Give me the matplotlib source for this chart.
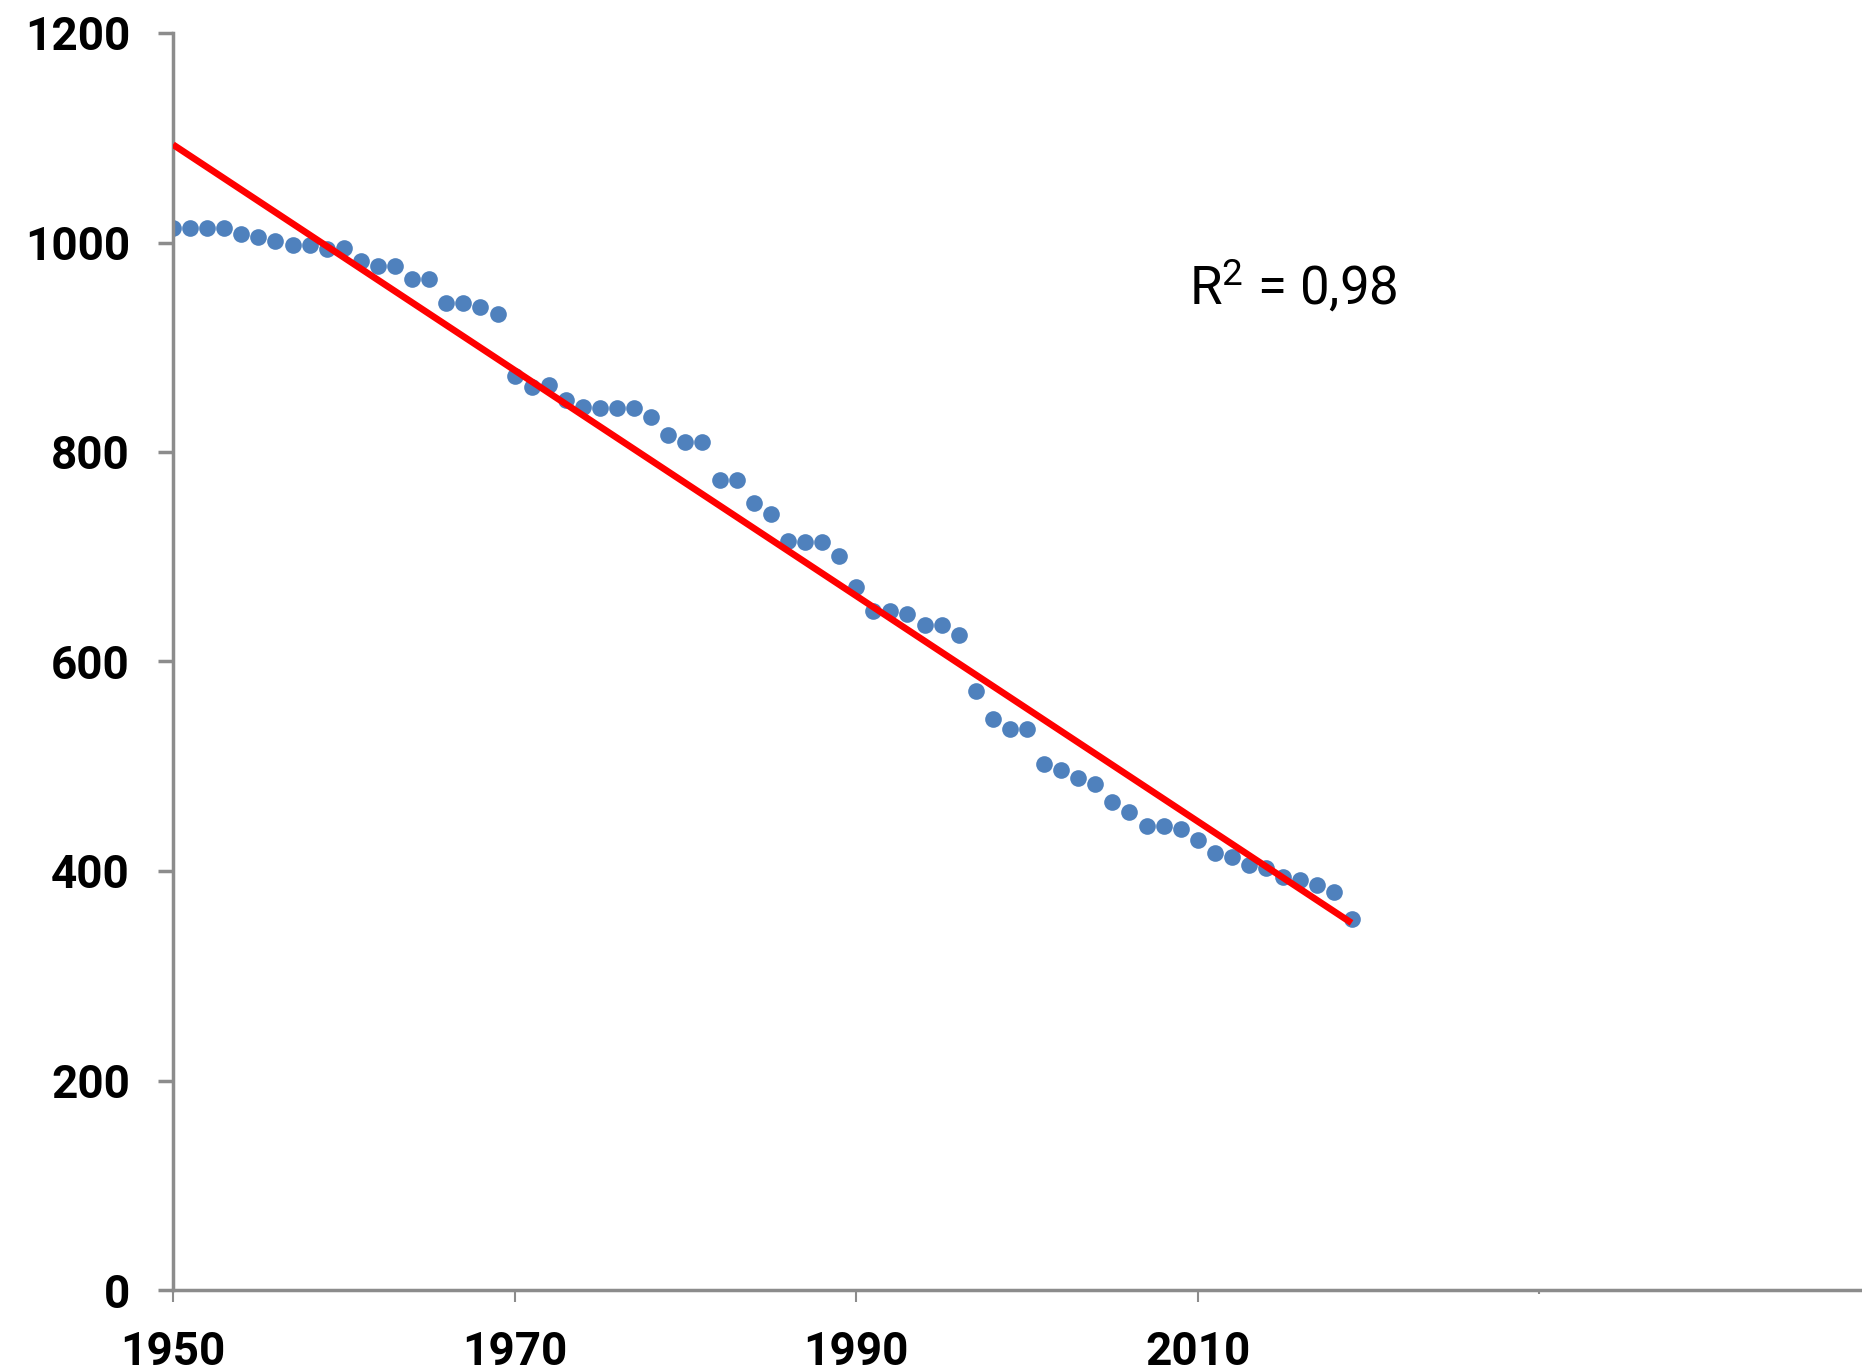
import numpy as np
import matplotlib
matplotlib.use("Agg")
import matplotlib.pyplot as plt

years = np.arange(1950, 2020)
values = [1014, 1014, 1014, 1014, 1008, 1005, 1001, 998, 998, 994,
          995, 982, 978, 978, 965, 965, 942, 942, 938, 932,
          873, 862, 864, 850, 843, 842, 842, 842, 833, 816,
          810, 810, 773, 773, 751, 741, 715, 714, 714, 701,
          671, 648, 648, 645, 635, 635, 625, 572, 545, 536,
          536, 502, 496, 489, 483, 466, 456, 443, 443, 440,
          430, 417, 413, 406, 403, 394, 391, 387, 380, 354]
r2_label = r"$\mathregular{R^2}$ = 0,98"

plt.rcParams['font.family'] = ['Roboto', 'DejaVu Sans']

fig = plt.figure(figsize=(18.62, 13.71), dpi=100)
# axes reaches a bit past the right edge, like the cropped original
ax = fig.add_axes([173 / 1862, 1 - 1290 / 1371, (1881 - 173) / 1862, (1290 - 33) / 1371])

ax.plot(years, values, 'o', color='#4f81bd', markersize=12, markeredgewidth=0, zorder=2)

# linear trend
a, b = np.polyfit(years, values, 1)
fit_x = np.array([years[0], years[-1]])
ax.plot(fit_x, a * fit_x + b, color='#ff0000', lw=4.8, solid_capstyle='butt', zorder=3)

ax.text(2009.5, 941, r2_label, fontsize=38, ha='left', va='baseline')

ax.set_xlim(1950, 2050)
ax.set_ylim(0, 1200)
ax.set_xticks([1950, 1970, 1990, 2010])
ax.set_xticks([2030], minor=True)
ax.set_yticks(np.arange(0, 1201, 200))

for s in ['top', 'right']:
    ax.spines[s].set_visible(False)
for s in ['left', 'bottom']:
    ax.spines[s].set_color('#8c8c8c')
    ax.spines[s].set_linewidth(2.5)

ax.tick_params(axis='y', length=11, width=2.5, color='#8c8c8c', pad=20,
               labelsize=33)
ax.tick_params(axis='x', which='major', length=8.5, width=1.5, color='#8c8c8c',
               pad=20, labelsize=33)
ax.tick_params(axis='x', which='minor', length=3, width=1.5, color='#8c8c8c')
for lbl in ax.get_xticklabels() + ax.get_yticklabels():
    lbl.set_fontweight('bold')

fig.savefig('out.png', dpi=100)
